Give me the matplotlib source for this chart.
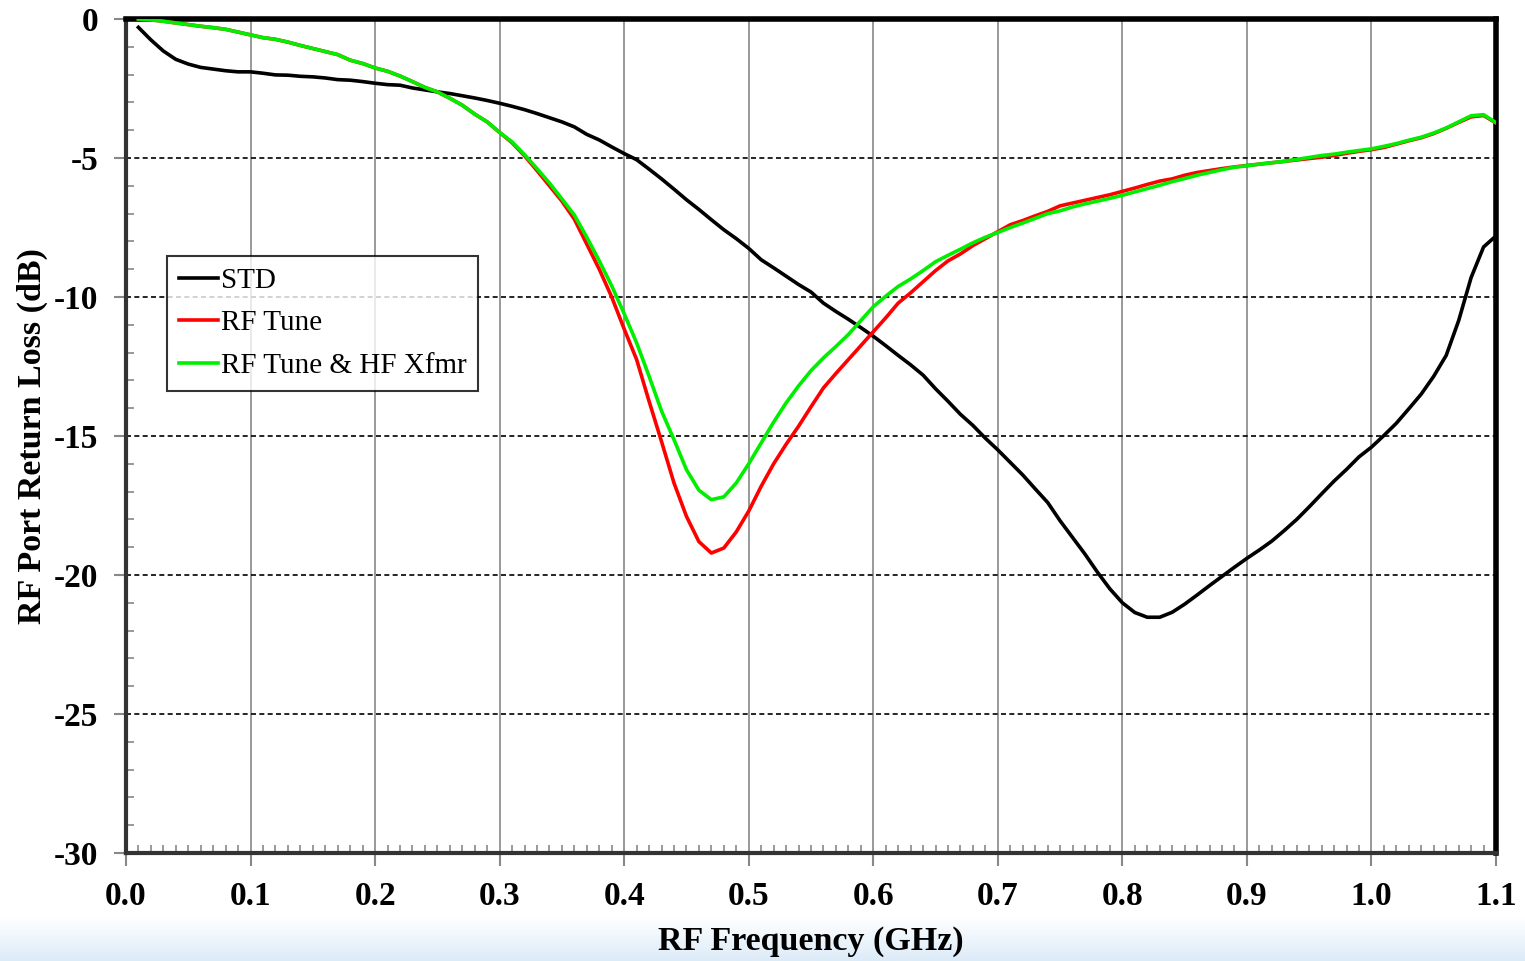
"""
RF port return loss vs frequency
"""

import matplotlib
matplotlib.use("Agg")
import matplotlib.pyplot as plt
import numpy as np
from matplotlib.colors import LinearSegmentedColormap
from matplotlib.ticker import MultipleLocator, FormatStrFormatter

# frequency points, GHz
freq = [round(0.01 * i, 2) for i in range(1, 111)]

std = [
    -0.30, -0.75, -1.15, -1.45, -1.62, -1.74, -1.80, -1.86, -1.90, -1.90,
    -1.95, -2.01, -2.02, -2.06, -2.08, -2.12, -2.18, -2.20, -2.25, -2.31,
    -2.36, -2.38, -2.48, -2.55, -2.62, -2.68, -2.76, -2.84, -2.93, -3.03,
    -3.14, -3.26, -3.40, -3.55, -3.70, -3.88, -4.15, -4.35, -4.60, -4.84,
    -5.06, -5.40, -5.75, -6.12, -6.50, -6.85, -7.22, -7.58, -7.90, -8.25,
    -8.66, -8.95, -9.25, -9.55, -9.82, -10.22, -10.52, -10.80, -11.10, -11.41,
    -11.75, -12.10, -12.44, -12.81, -13.30, -13.75, -14.22, -14.62, -15.08, -15.50,
    -15.95, -16.40, -16.90, -17.39, -18.05, -18.65, -19.25, -19.90, -20.50, -21.00,
    -21.35, -21.52, -21.52, -21.34, -21.05, -20.72, -20.38, -20.05, -19.72, -19.40,
    -19.10, -18.78, -18.40, -18.00, -17.55, -17.08, -16.62, -16.20, -15.75, -15.40,
    -14.98, -14.54, -14.02, -13.49, -12.85, -12.10, -10.85, -9.30, -8.20, -7.80,
]

rf_tune = [
    0.00, -0.03, -0.08, -0.14, -0.20, -0.26, -0.31, -0.37, -0.47, -0.57,
    -0.67, -0.73, -0.83, -0.95, -1.06, -1.17, -1.28, -1.48, -1.60, -1.76,
    -1.88, -2.05, -2.25, -2.46, -2.62, -2.85, -3.10, -3.42, -3.70, -4.08,
    -4.45, -4.92, -5.45, -6.00, -6.55, -7.20, -8.10, -9.00, -10.00, -11.15,
    -12.25, -13.75, -15.20, -16.69, -17.89, -18.80, -19.21, -19.03, -18.45, -17.70,
    -16.81, -16.00, -15.30, -14.65, -13.95, -13.27, -12.75, -12.25, -11.75, -11.25,
    -10.75, -10.22, -9.85, -9.45, -9.05, -8.70, -8.45, -8.15, -7.90, -7.65,
    -7.40, -7.25, -7.08, -6.92, -6.72, -6.62, -6.52, -6.42, -6.32, -6.20,
    -6.08, -5.95, -5.83, -5.75, -5.62, -5.52, -5.45, -5.38, -5.32, -5.27,
    -5.22, -5.17, -5.12, -5.07, -5.02, -4.97, -4.91, -4.83, -4.76, -4.70,
    -4.62, -4.50, -4.38, -4.27, -4.12, -3.93, -3.72, -3.52, -3.47, -3.74,
]

rf_tune_hf = [
    0.00, -0.03, -0.08, -0.14, -0.20, -0.26, -0.31, -0.37, -0.47, -0.57,
    -0.67, -0.73, -0.83, -0.95, -1.06, -1.17, -1.28, -1.48, -1.60, -1.76,
    -1.88, -2.05, -2.25, -2.46, -2.62, -2.85, -3.10, -3.42, -3.70, -4.08,
    -4.42, -4.88, -5.38, -5.90, -6.47, -7.05, -7.85, -8.70, -9.60, -10.60,
    -11.65, -12.85, -14.10, -15.13, -16.21, -16.95, -17.29, -17.19, -16.69, -16.00,
    -15.25, -14.50, -13.81, -13.20, -12.65, -12.19, -11.78, -11.35, -10.85, -10.35,
    -9.97, -9.62, -9.35, -9.05, -8.73, -8.50, -8.28, -8.05, -7.85, -7.68,
    -7.50, -7.34, -7.17, -7.00, -6.90, -6.76, -6.65, -6.55, -6.45, -6.34,
    -6.22, -6.10, -5.98, -5.85, -5.74, -5.62, -5.52, -5.42, -5.33, -5.28,
    -5.22, -5.17, -5.12, -5.05, -4.98, -4.91, -4.86, -4.79, -4.73, -4.67,
    -4.58, -4.48, -4.36, -4.25, -4.10, -3.92, -3.70, -3.48, -3.44, -3.73,
]

series_labels = ["STD", "RF Tune", "RF Tune & HF Xfmr"]
series_colors = ["#000000", "#FF0000", "#00EE00"]

plt.rcParams["font.family"] = ["Liberation Serif", "DejaVu Serif"]

fig = plt.figure(figsize=(15.25, 9.61), dpi=100)

# faint blue band at the bottom of the slide
bg = fig.add_axes([0, 0, 1, 0.045], zorder=-5)
grad = np.linspace(0, 1, 50).reshape(-1, 1)
band = LinearSegmentedColormap.from_list("band", ["#FFFFFF", "#DCEBF8"])
bg.imshow(grad, aspect="auto", cmap=band, extent=[0, 1, 0, 1])
bg.axis("off")

ax = fig.add_axes([0.0826, 0.1124, 0.8984, 0.8678])

for y, label, color in zip([std, rf_tune, rf_tune_hf], series_labels, series_colors):
    ax.plot(freq, y, color=color, linewidth=2.6, label=label, zorder=3)

ax.set_xlim(0, 1.1)
ax.set_ylim(-30, 0)

ax.xaxis.set_major_locator(MultipleLocator(0.1))
ax.xaxis.set_minor_locator(MultipleLocator(0.01))
ax.yaxis.set_major_locator(MultipleLocator(5))
ax.yaxis.set_minor_locator(MultipleLocator(1))
ax.xaxis.set_major_formatter(FormatStrFormatter("%.1f"))
ax.yaxis.set_major_formatter(FormatStrFormatter("%d"))

ax.tick_params(axis="both", which="major", direction="out", length=9, width=1.5,
               color="#888888", labelsize=24, pad=11)
ax.tick_params(axis="both", which="minor", direction="in", length=6, width=1.2,
               color="#888888")
for lab in ax.get_xticklabels() + ax.get_yticklabels():
    lab.set_fontweight("bold")

ax.grid(True, axis="x", which="major", color="#999999", linewidth=1.4, linestyle="-")
ax.grid(True, axis="y", which="major", color="#000000", linewidth=1.2,
        linestyle=(0, (3, 2)))

ax.spines["left"].set_color("#333333")
ax.spines["bottom"].set_color("#333333")
ax.spines["left"].set_linewidth(3)
ax.spines["bottom"].set_linewidth(3)
ax.spines["top"].set_color("#000000")
ax.spines["right"].set_color("#000000")
ax.spines["top"].set_linewidth(4)
ax.spines["right"].set_linewidth(4)

ax.set_xlabel("RF Frequency (GHz)", fontsize=24.5, fontweight="bold", labelpad=10)
ax.set_ylabel("RF Port Return Loss (dB)", fontsize=24.5, fontweight="bold", labelpad=4)

leg = ax.legend(loc="upper left", bbox_to_anchor=(0.030, 0.716), fontsize=21,
                frameon=True, fancybox=False, edgecolor="#000000",
                handlelength=1.35, handletextpad=0.1, borderpad=0.4,
                labelspacing=0.55, borderaxespad=0)
leg.get_frame().set_linewidth(1.5)

fig.savefig("out.png", dpi=100)
